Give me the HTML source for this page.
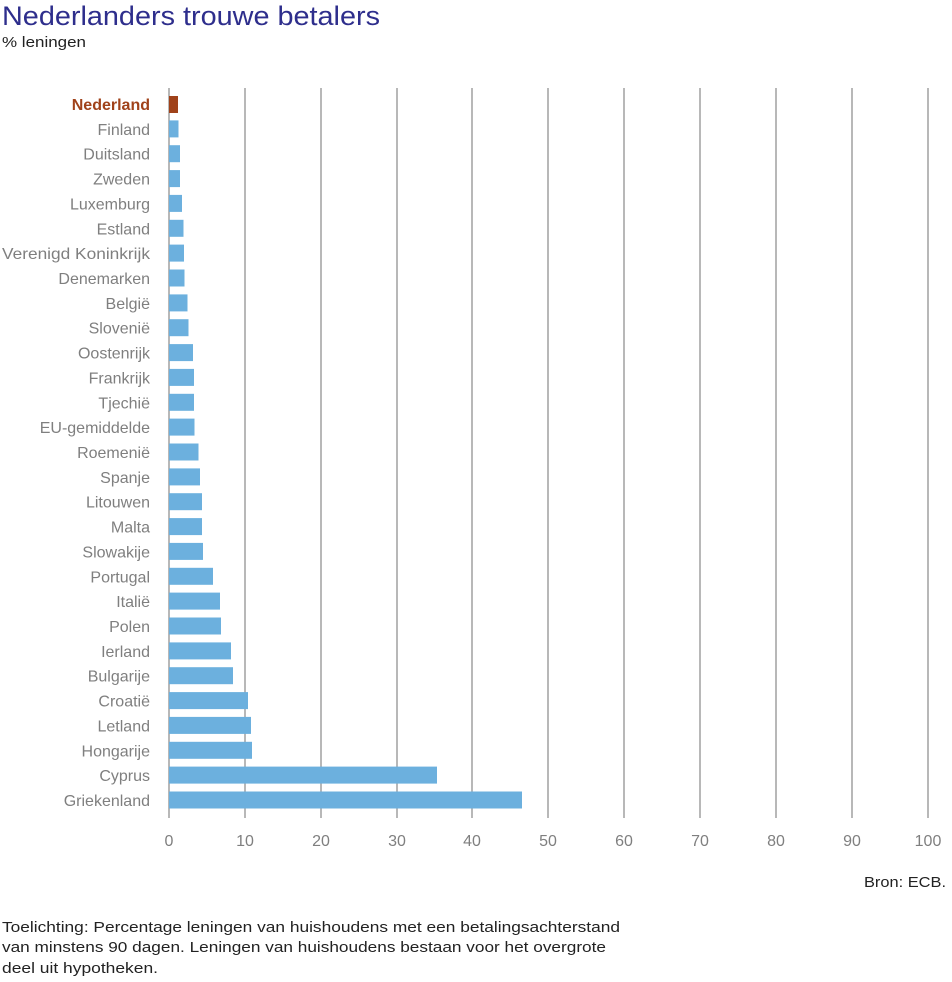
<!DOCTYPE html>
<html><head><meta charset="utf-8"><style>
html,body{margin:0;padding:0;background:#fff;}
svg{display:block;font-family:"Liberation Sans",sans-serif;}
.l{font-size:16px;fill:#7f7f7f;text-anchor:end;}
.t{font-size:16px;fill:#7f7f7f;text-anchor:middle;}
.b{fill:#6cb0de;}
.g{stroke:#a0a0a0;stroke-width:1.5;}
</style></head><body>
<svg width="952" height="982" viewBox="0 0 952 982">
<text x="2" y="25" font-size="27" fill="#2e2e8c" textLength="378" lengthAdjust="spacingAndGlyphs">Nederlanders trouwe betalers</text>
<text x="2" y="47" font-size="15" fill="#222" textLength="84" lengthAdjust="spacingAndGlyphs">% leningen</text>
<g class="g">
<line x1="169" y1="88" x2="169" y2="818"/>
<line x1="245" y1="88" x2="245" y2="818"/>
<line x1="321" y1="88" x2="321" y2="818"/>
<line x1="397" y1="88" x2="397" y2="818"/>
<line x1="472" y1="88" x2="472" y2="818"/>
<line x1="548" y1="88" x2="548" y2="818"/>
<line x1="624" y1="88" x2="624" y2="818"/>
<line x1="700" y1="88" x2="700" y2="818"/>
<line x1="776" y1="88" x2="776" y2="818"/>
<line x1="852" y1="88" x2="852" y2="818"/>
<line x1="928" y1="88" x2="928" y2="818"/>
</g>
<rect x="169" y="96" width="9" height="17" fill="#a0421a"/>
<rect class="b" x="169" y="120.4" width="9.5" height="17"/>
<rect class="b" x="169" y="145.2" width="11" height="17"/>
<rect class="b" x="169" y="170.1" width="11" height="17"/>
<rect class="b" x="169" y="194.9" width="13" height="17"/>
<rect class="b" x="169" y="219.8" width="14.5" height="17"/>
<rect class="b" x="169" y="244.6" width="15" height="17"/>
<rect class="b" x="169" y="269.5" width="15.5" height="17"/>
<rect class="b" x="169" y="294.4" width="18.5" height="17"/>
<rect class="b" x="169" y="319.2" width="19.5" height="17"/>
<rect class="b" x="169" y="344.1" width="24" height="17"/>
<rect class="b" x="169" y="368.9" width="25" height="17"/>
<rect class="b" x="169" y="393.8" width="25" height="17"/>
<rect class="b" x="169" y="418.6" width="25.5" height="17"/>
<rect class="b" x="169" y="443.5" width="29.5" height="17"/>
<rect class="b" x="169" y="468.4" width="31" height="17"/>
<rect class="b" x="169" y="493.2" width="33" height="17"/>
<rect class="b" x="169" y="518.1" width="33" height="17"/>
<rect class="b" x="169" y="542.9" width="34" height="17"/>
<rect class="b" x="169" y="567.8" width="44" height="17"/>
<rect class="b" x="169" y="592.6" width="51" height="17"/>
<rect class="b" x="169" y="617.5" width="52" height="17"/>
<rect class="b" x="169" y="642.4" width="62" height="17"/>
<rect class="b" x="169" y="667.2" width="64" height="17"/>
<rect class="b" x="169" y="692.1" width="79" height="17"/>
<rect class="b" x="169" y="716.9" width="82" height="17"/>
<rect class="b" x="169" y="741.8" width="83" height="17"/>
<rect class="b" x="169" y="766.6" width="268" height="17"/>
<rect class="b" x="169" y="791.5" width="353" height="17"/>
<text class="l" x="150" y="110" style="fill:#a0421a;font-weight:bold">Nederland</text>
<text class="l" x="150" y="134.9">Finland</text>
<text class="l" x="150" y="159.7">Duitsland</text>
<text class="l" x="150" y="184.6">Zweden</text>
<text class="l" x="150" y="209.4">Luxemburg</text>
<text class="l" x="150" y="234.3">Estland</text>
<text class="l" x="150" y="259.1" textLength="148" lengthAdjust="spacingAndGlyphs">Verenigd Koninkrijk</text>
<text class="l" x="150" y="284">Denemarken</text>
<text class="l" x="150" y="308.9">België</text>
<text class="l" x="150" y="333.7">Slovenië</text>
<text class="l" x="150" y="358.6">Oostenrijk</text>
<text class="l" x="150" y="383.4">Frankrijk</text>
<text class="l" x="150" y="408.3">Tjechië</text>
<text class="l" x="150" y="433.1">EU-gemiddelde</text>
<text class="l" x="150" y="458">Roemenië</text>
<text class="l" x="150" y="482.9">Spanje</text>
<text class="l" x="150" y="507.7">Litouwen</text>
<text class="l" x="150" y="532.6">Malta</text>
<text class="l" x="150" y="557.4">Slowakije</text>
<text class="l" x="150" y="582.3">Portugal</text>
<text class="l" x="150" y="607.1">Italië</text>
<text class="l" x="150" y="632">Polen</text>
<text class="l" x="150" y="656.9">Ierland</text>
<text class="l" x="150" y="681.7">Bulgarije</text>
<text class="l" x="150" y="706.6">Croatië</text>
<text class="l" x="150" y="731.4">Letland</text>
<text class="l" x="150" y="756.3">Hongarije</text>
<text class="l" x="150" y="781.1">Cyprus</text>
<text class="l" x="150" y="806">Griekenland</text>
<text class="t" x="169" y="846">0</text>
<text class="t" x="245" y="846">10</text>
<text class="t" x="321" y="846">20</text>
<text class="t" x="397" y="846">30</text>
<text class="t" x="472" y="846">40</text>
<text class="t" x="548" y="846">50</text>
<text class="t" x="624" y="846">60</text>
<text class="t" x="700" y="846">70</text>
<text class="t" x="776" y="846">80</text>
<text class="t" x="852" y="846">90</text>
<text class="t" x="928" y="846">100</text>
<text x="946" y="887" font-size="15" fill="#222" text-anchor="end" textLength="82" lengthAdjust="spacingAndGlyphs">Bron: ECB.</text>
<text x="2" y="932" font-size="15" fill="#222" textLength="618" lengthAdjust="spacingAndGlyphs">Toelichting: Percentage leningen van huishoudens met een betalingsachterstand</text>
<text x="2" y="952" font-size="15" fill="#222" textLength="604" lengthAdjust="spacingAndGlyphs">van minstens 90 dagen. Leningen van huishoudens bestaan voor het overgrote</text>
<text x="2" y="973" font-size="15" fill="#222" textLength="156" lengthAdjust="spacingAndGlyphs">deel uit hypotheken.</text>
</svg>
</body></html>
